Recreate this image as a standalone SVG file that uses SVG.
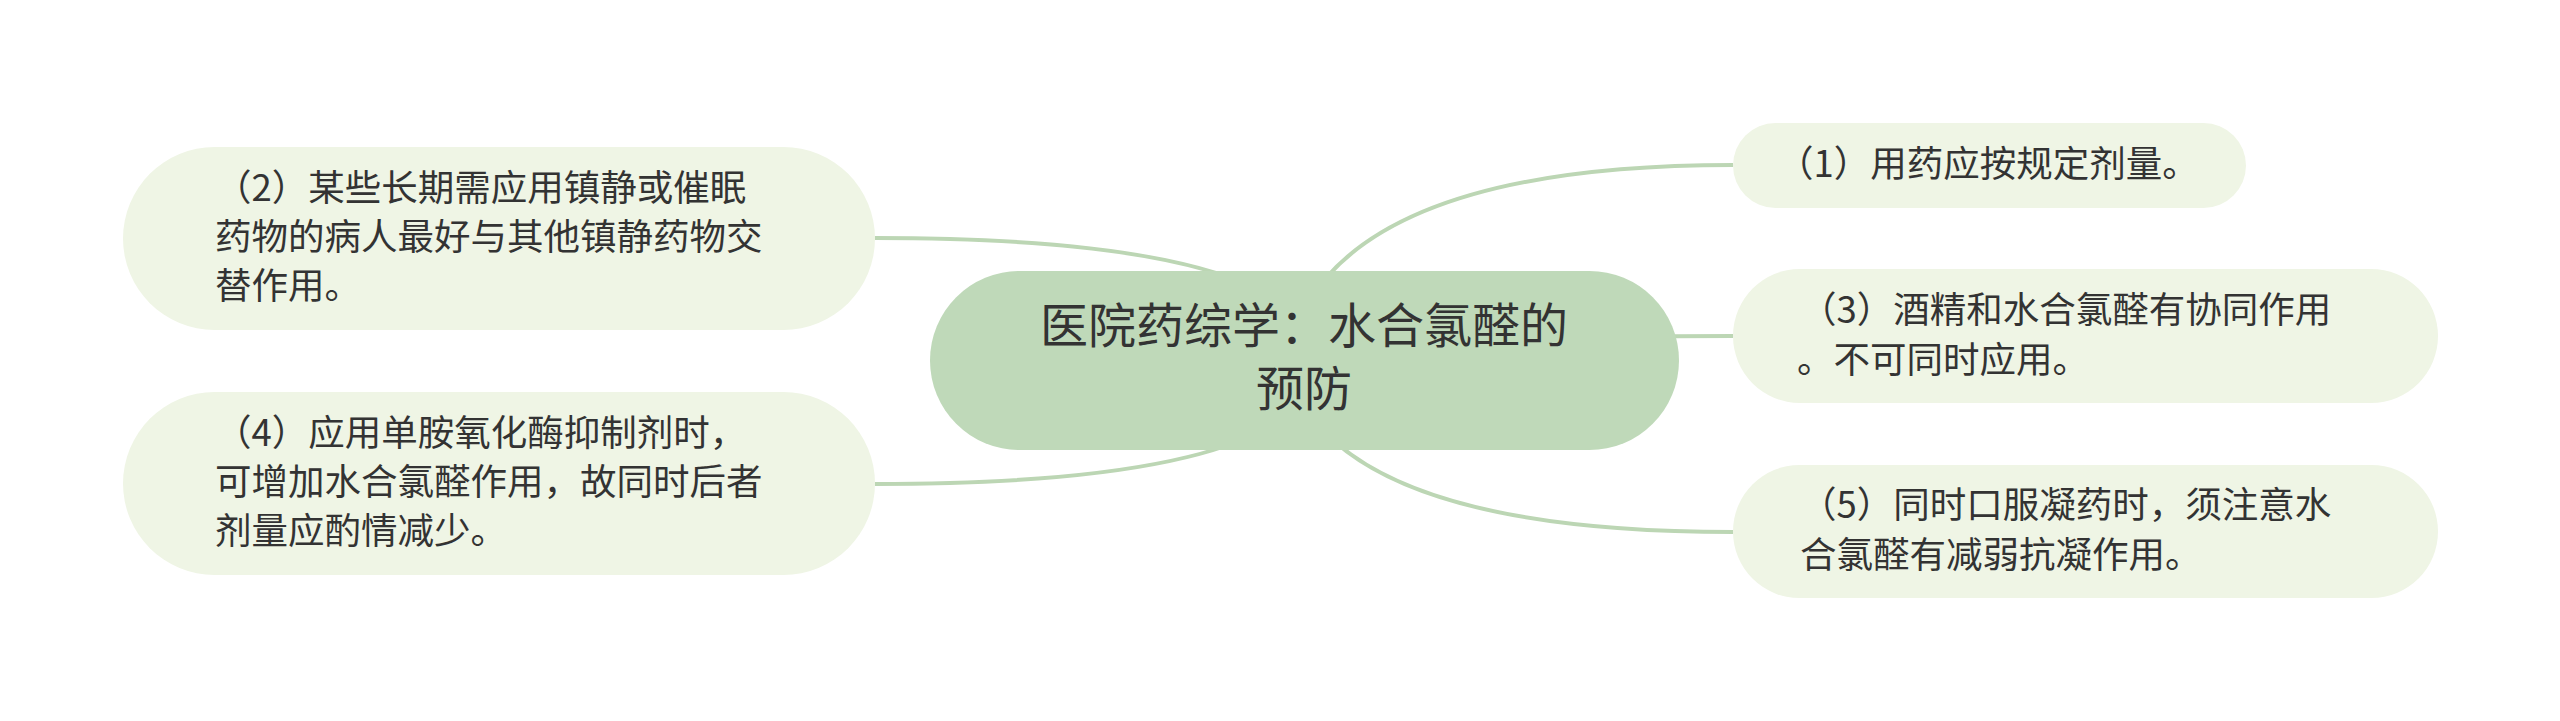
<svg xmlns="http://www.w3.org/2000/svg" width="2560" height="721" viewBox="0 0 2560 721">
<style>
.leaf{fill:#eff5e5}
.root{fill:#bfd9b9}
.t{font-family:"Noto Sans CJK SC","Microsoft YaHei",sans-serif;fill:#333333;font-size:36.5px}
.rt{font-family:"Noto Sans CJK SC","Microsoft YaHei",sans-serif;fill:#333333;font-size:48px;text-anchor:middle}
.c{fill:none;stroke:#bcd6b4;stroke-width:4}
</style>
<rect width="2560" height="721" fill="#ffffff"/>
<g id="connectors">
<path class="c" d="M1285,361 Q1326,165 1733,165"/>
<path class="c" d="M1285,361 Q1326,336 1733,336"/>
<path class="c" d="M1285,361 Q1326,532 1733,532"/>
<path class="c" d="M1323,361 Q1305,238 875,238"/>
<path class="c" d="M1323,361 Q1305,484 875,484"/>
</g>
<g id="root">
<rect class="root" x="930" y="271" width="749" height="179" rx="89.5"/>
<text class="rt" x="1304" y="343">医院药综学：水合氯醛的</text>
<text class="rt" x="1304" y="406">预防</text>
</g>
<g id="n2">
<rect class="leaf" x="123" y="147" width="752" height="183" rx="91.5"/>
<text class="t" x="215" y="201">（2）某些长期需应用镇静或催眠</text>
<text class="t" x="215" y="250">药物的病人最好与其他镇静药物交</text>
<text class="t" x="215" y="299">替作用。</text>
</g>
<g id="n4">
<rect class="leaf" x="123" y="392" width="752" height="183" rx="91.5"/>
<text class="t" x="215" y="446">（4）应用单胺氧化酶抑制剂时，</text>
<text class="t" x="215" y="495">可增加水合氯醛作用，故同时后者</text>
<text class="t" x="215" y="544">剂量应酌情减少。</text>
</g>
<g id="n1">
<rect class="leaf" x="1733" y="123" width="513" height="85" rx="42.5"/>
<text class="t" x="1777" y="177">（1）用药应按规定剂量。</text>
</g>
<g id="n3">
<rect class="leaf" x="1733" y="269" width="705" height="134" rx="67"/>
<text class="t" x="1800" y="323">（3）酒精和水合氯醛有协同作用</text>
<text class="t" x="1797" y="373">。不可同时应用。</text>
</g>
<g id="n5">
<rect class="leaf" x="1733" y="465" width="705" height="133" rx="66.5"/>
<text class="t" x="1800" y="518">（5）同时口服凝药时，须注意水</text>
<text class="t" x="1800" y="568">合氯醛有减弱抗凝作用。</text>
</g>
</svg>
